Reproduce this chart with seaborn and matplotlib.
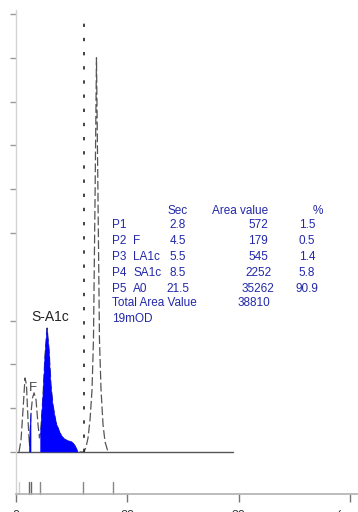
import matplotlib
matplotlib.use("Agg")
import matplotlib.pyplot as plt
import seaborn as sns
import pandas as pd

# Chromatogram trace (time axis units, absorbance units)
trace_t = [0.27, 0.45, 0.63, 0.81, 0.94, 1.08, 1.21, 1.35, 1.48, 1.62, 1.80, 1.98,
           2.11, 2.22, 2.43, 2.61, 2.79, 2.97, 3.14, 3.32, 3.59, 3.95, 4.31, 4.67,
           5.03, 5.30, 5.57, 6.11, 6.29, 6.47, 6.65, 6.83, 6.96, 7.10, 7.23, 7.37,
           7.50, 7.64, 7.82, 8.00, 8.27]
trace_a = [0.00, 0.27, 0.96, 1.69, 1.53, 0.73, 0.14, 0.90, 1.23, 1.35, 1.19, 0.62,
           0.32, 0.46, 1.30, 2.21, 2.83, 2.33, 1.53, 1.07, 0.68, 0.43, 0.30, 0.25,
           0.23, 0.14, 0.00, 0.00, 0.11, 0.32, 0.73, 1.42, 2.56, 5.75, 9.00, 5.75,
           2.56, 1.42, 0.62, 0.23, 0.00]

# Shaded (integrated) windows of the trace
fill_windows = [(1.17, 1.36), (2.22, 5.57)]

# Peak detection marks along the time axis
mark_t = [0.27, 1.17, 1.35, 2.16, 6.02, 8.72]
mark_shade = ["#cfcfcf", "#666666", "#666666", "#888888", "#888888", "#888888"]

# Injection / window marker
window_t = 6.11

# Results table
peak_ids = ["P1", "P2", "P3", "P4", "P5"]
peak_names = ["", "F", "LA1c", "SA1c", "A0"]
peak_sec = ["2.8", "4.5", "5.5", "8.5", "21.5"]
peak_area = ["572", "179", "545", "2252", "35262"]
peak_pct = ["1.5", "0.5", "1.4", "5.8", "90.9"]
total_area = "38810"
od_label = "19mOD"

# Axis ticks
x_ticks = [0, 10, 20, 30]
x_tick_labels = ["0", "20", "30", "(sec)"]
y_ticks = [0, 1, 2, 3, 5, 6, 7, 8, 9, 10]

sns.set_style("white")
plt.rcParams["font.family"] = ["Liberation Sans", "DejaVu Sans"]

W, H = 358, 512
fig = plt.figure(figsize=(W / 100, H / 100), dpi=100)
ax = fig.add_axes([16 / W, 18 / H, 1 - 16 / W, (494 - 10) / H])

df = pd.DataFrame({"t": trace_t, "a": trace_a})
sns.lineplot(data=df, x="t", y="a", ax=ax, estimator=None, sort=False,
             color="#555555", lw=0.9, linestyle=(0, (7, 2.5)), zorder=2)

for t0, t1 in fill_windows:
    sub = df[(df.t >= t0 - 1e-9) & (df.t <= t1 + 1e-9)]
    xs = [sub.t.iloc[0]] + list(sub.t) + [sub.t.iloc[-1]]
    ys = [0.0] + list(sub.a) + [0.0]
    ax.fill(xs, ys, facecolor="#0000ff", edgecolor="#0000ff", lw=0.4,
            zorder=3)

# baseline
ax.plot([0, 19.5], [0, 0], color="#555555", lw=1.0, zorder=2)

# dotted window marker
ax.plot([window_t, window_t], [0, 9.95], color="#222222", lw=1.2,
        linestyle=(0, (2, 6.5)), zorder=2)

# detection marks above the time axis
for t, c in zip(mark_t, mark_shade):
    ax.plot([t, t], [-0.96, -0.69], color=c, lw=1.0, zorder=2, clip_on=False)

ax.text(3.05, 3.0, "S-A1c", fontsize=10, color="#222222", ha="center",
        va="baseline")
ax.text(1.53, 1.40, "F", fontsize=9.5, color="#444444", ha="center",
        va="baseline")

ax.set_xlim(0, (W - 16) / 11.13)
ax.set_ylim(-0.96, (452 - 10) / 43.8)
ax.set_xticks(x_ticks)
ax.set_xticklabels(x_tick_labels, fontsize=9, color="#333333")
ax.set_yticks(y_ticks)
ax.set_yticklabels([])
ax.set_xlabel("")
ax.set_ylabel("")
ax.tick_params(axis="x", direction="out", length=6, width=1, color="#777777",
               pad=5.5, bottom=True)
ax.tick_params(axis="y", direction="out", length=4, width=1, color="#999999",
               left=True)
for s in ("top", "right"):
    ax.spines[s].set_visible(False)
ax.spines["left"].set_color("#d4d4d4")
ax.spines["left"].set_linewidth(1.0)
ax.spines["bottom"].set_color("#b0b0b0")
ax.spines["bottom"].set_linewidth(1.2)


def ft(px, py, s, ha="left"):
    fig.text(px / W, 1 - py / H, s, ha=ha, va="baseline", fontsize=8.5,
             color="#2228a8")


ft(177.5, 214, "Sec", "center")
ft(240, 214, "Area value", "center")
ft(317.5, 214, "%", "center")
for i in range(len(peak_ids)):
    by = 227.5 + 16 * i
    ft(112, by, peak_ids[i])
    ft(133, by, peak_names[i])
    ft(177.5, by, peak_sec[i], "center")
    ft(258, by, peak_area[i], "center")
    ft(307, by, peak_pct[i], "center")
ft(112, 306, "Total Area Value")
ft(253.5, 306, total_area, "center")
ft(112, 322, od_label)

fig.savefig("out.png", dpi=100)
